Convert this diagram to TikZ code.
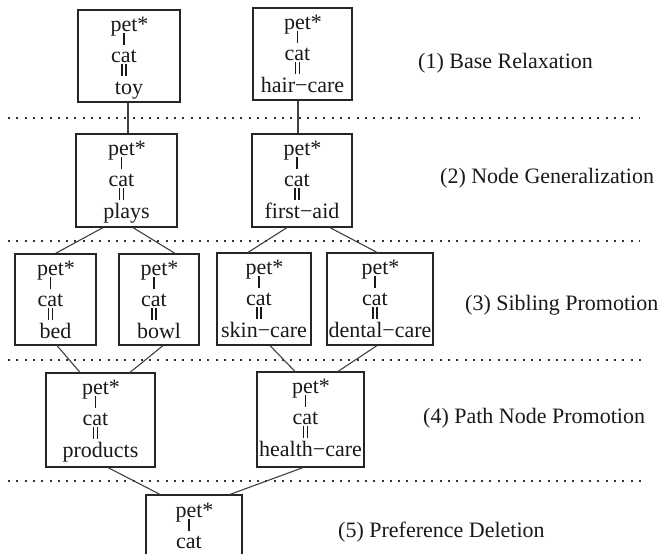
\documentclass[tikz,border=0pt]{standalone}
\usepackage{fontspec}
\setmainfont{Liberation Serif}
\usetikzlibrary{calc}
\tikzset{
  tbox/.style={draw=black!85, line width=1.2pt, rectangle, inner sep=0pt},
  txt/.style={font=\fontsize{22}{26}\selectfont, inner sep=0pt, anchor=base, text=black!90},
  lbl/.style={font=\fontsize{22}{26}\selectfont, inner sep=0pt, anchor=base west, text=black!90},
  bar/.style={line width=1.4pt, black!90},
  conn/.style={line width=1.1pt, black!75},
  sep/.style={line width=1.3pt, black!80, dash pattern=on 2pt off 6.3pt}
}
% #1 name, #2 left, #3 top, #4 right, #5 bottom, #6 word
\newcommand{\catbox}[6]{%
  \node[tbox, minimum width={(#4-#2)*1pt}, minimum height={(#5-#3)*1pt}] (#1) at ({(#2+#4)/2},{(#3+#5)/2}) {};
  \node[txt] (#1p) at ({(#2+#4)/2-5},{#3+21}) {pet\rlap{*}};
  \draw[bar] ({(#2+#4)/2-5},{#3+23}) -- ({(#2+#4)/2-5},{#3+35});
  \node[txt] (#1c) at ({(#2+#4)/2-5},{#3+52}) {cat};
  \draw[bar] ({(#2+#4)/2-7},{#3+54}) -- ({(#2+#4)/2-7},{#3+66});
  \draw[bar] ({(#2+#4)/2-3},{#3+54}) -- ({(#2+#4)/2-3},{#3+66});
  \node[txt] (#1w) at ({(#2+#4)/2},{#3+84}) {#6};
}
\begin{document}
\begin{tikzpicture}[x=1pt,y=-1pt]
\useasboundingbox (0,0) rectangle (659,554);
\clip (0,0) rectangle (659,554);
\fill[white] (0,0) rectangle (659,554);

% separators
\draw[sep] (8,118) -- (640,118);
\draw[sep] (8,241) -- (640,241);
\draw[sep] (8,360) -- (642,360);
\draw[sep] (8,481) -- (642,481);

% boxes
\catbox{toy}{78}{10}{180}{102}{toy}
\catbox{hair}{253}{8}{352}{100}{hair−care}
\catbox{plays}{76}{134}{177}{227}{plays}
\catbox{first}{252}{134}{352}{227}{first−aid}
\catbox{bed}{15}{254}{96}{345}{bed}
\catbox{bowl}{119}{254}{199}{345}{bowl}
\catbox{skin}{217}{253}{311}{345}{skin−care}
\catbox{dental}{327}{253}{433}{345}{dental−care}
\catbox{prod}{46}{373}{155}{467}{products}
\catbox{health}{257}{372}{364}{467}{health−care}

% bottom box (cut by the picture edge)
\node[tbox, minimum width=96pt, minimum height=92pt] (pref) at (194,541) {};
\node[txt] (prefp) at (189,517) {pet\rlap{*}};
\draw[bar] (189,519) -- (189,531);
\node[txt] (prefc) at (189,548) {cat};

% connectors
\draw[conn] ([xshift=-1pt]toy.south) -- ([xshift=1.5pt]plays.north);
\draw[conn] ([xshift=-4.5pt]hair.south) -- ([xshift=-4pt]first.north);
\draw[conn] ([xshift=-23.5pt]plays.south) -- ([xshift=0pt]bed.north);
\draw[conn] ([xshift=6.5pt]plays.south) -- ([xshift=16pt]bowl.north);
\draw[conn] ([xshift=-15pt]first.south) -- ([xshift=-16pt]skin.north);
\draw[conn] ([xshift=28pt]first.south) -- ([xshift=-3pt]dental.north);
\draw[conn] ([xshift=1.5pt]bed.south) -- ([xshift=-20.5pt]prod.north);
\draw[conn] ([xshift=4pt]bowl.south) -- ([xshift=29.5pt]prod.north);
\draw[conn] ([xshift=6pt]skin.south) -- ([xshift=-15.5pt]health.north);
\draw[conn] ([xshift=-3pt]dental.south) -- ([xshift=27.5pt]health.north);
\draw[conn] ([xshift=7.5pt]prod.south) -- ([xshift=-34pt]pref.north);
\draw[conn] ([xshift=-7.5pt]health.south) -- ([xshift=36pt]pref.north);

% step labels
\node[lbl] (l1) at (418,68) {(1) Base Relaxation};
\node[lbl] (l2) at (440,183) {(2) Node Generalization};
\node[lbl] (l3) at (465,310) {(3) Sibling Promotion};
\node[lbl] (l4) at (423,423) {(4) Path Node Promotion};
\node[lbl] (l5) at (338,537) {(5) Preference Deletion};
\end{tikzpicture}
\end{document}
